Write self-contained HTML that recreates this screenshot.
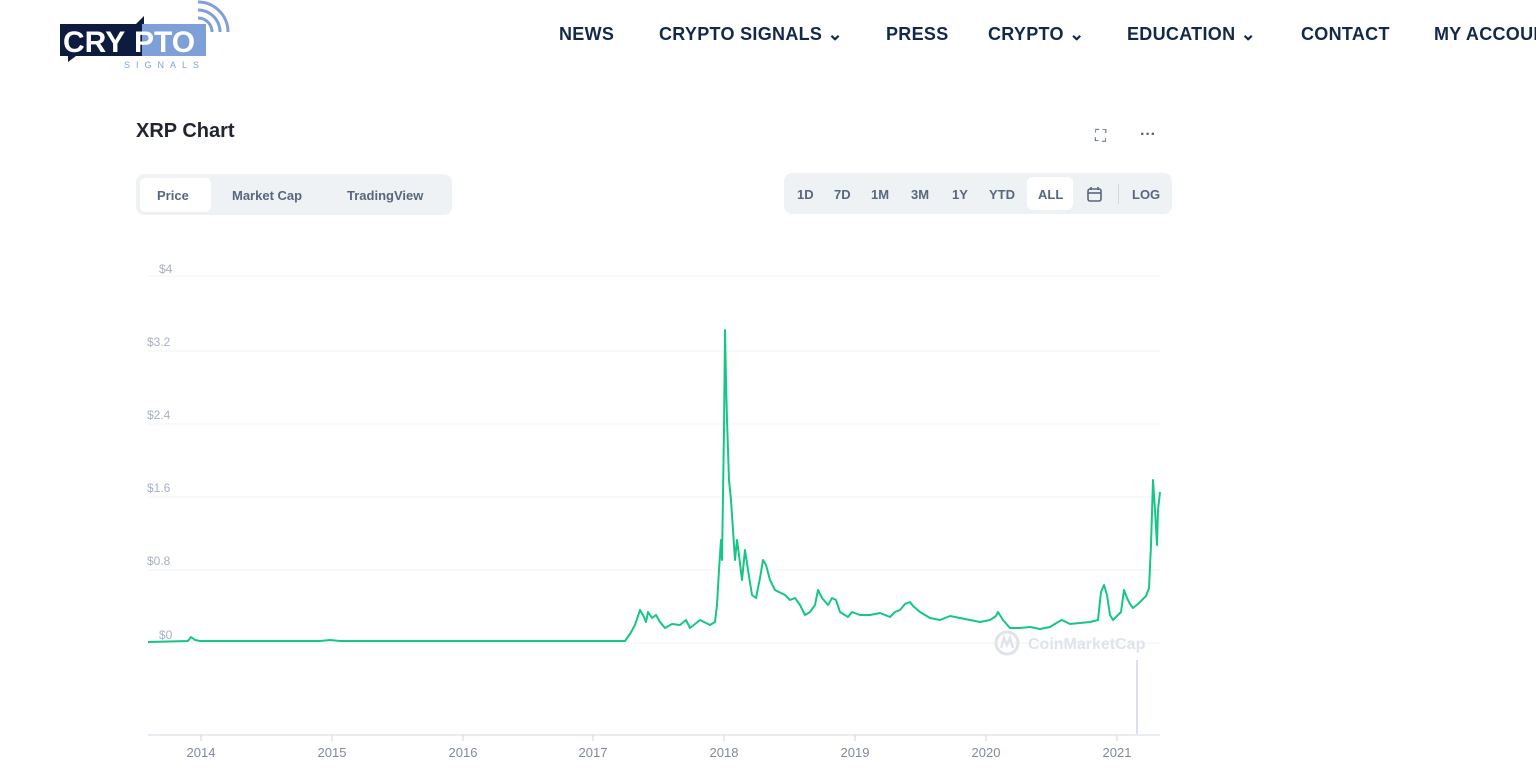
<!DOCTYPE html>
<html><head><meta charset="utf-8"><style>
body{margin:0;width:1536px;height:776px;overflow:hidden;background:#fff;font-family:"Liberation Sans",sans-serif;position:relative}
.nav{position:absolute;top:24px;font-size:18px;font-weight:bold;color:#13294b;letter-spacing:0.3px}
.abs{position:absolute}
.seg{position:absolute;background:#eff2f5;border-radius:8px}
.btn{position:absolute;font-size:13px;font-weight:bold;color:#58667e}
</style></head><body>
<svg class="abs" style="left:58px;top:0" width="175" height="72">
<path d="M2 24 H78 L86 16 L86 24 H148 V56 H18 L10 62 V56 H2 Z" fill="#0d1b3e"/>
<path d="M84 24 H148 V56 H84 Z" fill="#7f9fd8"/>
<text x="5" y="52" font-family="Liberation Sans" font-weight="bold" font-size="30" fill="#fff">CRY</text>
<text x="76" y="52" font-family="Liberation Sans" font-weight="bold" font-size="30" fill="#fff">PTO</text>
<text x="66" y="68" font-family="Liberation Sans" font-size="9" fill="#7f9fd8" letter-spacing="6">SIGNALS</text>
<path d="M140 18 A14 14 0 0 1 154 32" stroke="#7f9fd8" stroke-width="3" fill="none"/>
<path d="M140 10 A22 22 0 0 1 162 32" stroke="#7f9fd8" stroke-width="3" fill="none"/>
<path d="M140 2 A30 30 0 0 1 170 32" stroke="#7f9fd8" stroke-width="3" fill="none"/>
</svg>
<div class="nav" style="left:559px">NEWS</div>
<div class="nav" style="left:659px">CRYPTO SIGNALS ⌄</div>
<div class="nav" style="left:886px">PRESS</div>
<div class="nav" style="left:988px">CRYPTO ⌄</div>
<div class="nav" style="left:1127px">EDUCATION ⌄</div>
<div class="nav" style="left:1301px">CONTACT</div>
<div class="nav" style="left:1434px;white-space:nowrap">MY ACCOUNT</div>

<div class="abs" style="left:136px;top:120px;font-size:20px;font-weight:bold;color:#222531">XRP Chart</div>
<div class="abs" style="left:1095px;top:128px;font-size:16px;color:#58667e">⛶</div>
<div class="abs" style="left:1140px;top:126px;font-size:16px;color:#58667e;font-weight:bold">···</div>

<div class="seg" style="left:136px;top:174px;width:316px;height:41px"></div>
<div class="abs" style="left:140px;top:178px;width:71px;height:34px;background:#fff;border-radius:6px"></div>
<div class="btn" style="left:157px;top:188px">Price</div>
<div class="btn" style="left:232px;top:188px">Market Cap</div>
<div class="btn" style="left:347px;top:188px">TradingView</div>

<div class="seg" style="left:784px;top:173px;width:388px;height:41px"></div>
<div class="abs" style="left:1027px;top:177px;width:46px;height:33px;background:#fff;border-radius:6px"></div>
<div class="btn" style="left:797px;top:187px">1D</div>
<div class="btn" style="left:834px;top:187px">7D</div>
<div class="btn" style="left:871px;top:187px">1M</div>
<div class="btn" style="left:911px;top:187px">3M</div>
<div class="btn" style="left:952px;top:187px">1Y</div>
<div class="btn" style="left:989px;top:187px">YTD</div>
<div class="btn" style="left:1038px;top:187px">ALL</div>
<svg class="abs" style="left:1086px;top:185px" width="18" height="18"><rect x="2" y="4" width="13" height="12" rx="2" fill="none" stroke="#58667e" stroke-width="1.6"/><line x1="2" y1="8" x2="15" y2="8" stroke="#58667e" stroke-width="1.6"/><line x1="5" y1="2" x2="5" y2="5" stroke="#58667e" stroke-width="1.6"/><line x1="12" y1="2" x2="12" y2="5" stroke="#58667e" stroke-width="1.6"/></svg>
<div class="abs" style="left:1118px;top:184px;width:1px;height:20px;background:#cfd6e4"></div>
<div class="btn" style="left:1132px;top:187px">LOG</div>

<svg class="abs" style="left:0;top:0" width="1536" height="776">
<g stroke="#f1f3f6" stroke-width="1">
<line x1="148" y1="276" x2="1160" y2="276"/><line x1="148" y1="351" x2="1160" y2="351"/>
<line x1="148" y1="424" x2="1160" y2="424"/><line x1="148" y1="497" x2="1160" y2="497"/>
<line x1="148" y1="570" x2="1160" y2="570"/><line x1="148" y1="643" x2="1160" y2="643"/>
</g>
<g font-family="Liberation Sans" font-size="12" fill="#a6b0c3">
<text x="159" y="273">$4</text><text x="147" y="346">$3.2</text><text x="147" y="419">$2.4</text>
<text x="147" y="492">$1.6</text><text x="147" y="565">$0.8</text><text x="159" y="639">$0</text>
</g>
<text x="1028" y="649" font-family="Liberation Sans" font-size="16" font-weight="bold" fill="#dfe3ec">CoinMarketCap</text>
<circle cx="1007" cy="643" r="11" fill="none" stroke="#dfe3ec" stroke-width="3"/>
<path d="M1001 648 L1004 638 L1007 645 L1010 638 L1013 648" fill="none" stroke="#dfe3ec" stroke-width="2.5"/>
<line x1="1137" y1="660" x2="1137" y2="735" stroke="#d0d6e2" stroke-width="1.5"/>
<line x1="148" y1="735" x2="1160" y2="735" stroke="#e2e6ee" stroke-width="1.5"/>
<g stroke="#cfd6e4"><line x1="201" y1="735" x2="201" y2="741"/><line x1="332" y1="735" x2="332" y2="741"/><line x1="463" y1="735" x2="463" y2="741"/><line x1="593" y1="735" x2="593" y2="741"/><line x1="724" y1="735" x2="724" y2="741"/><line x1="855" y1="735" x2="855" y2="741"/><line x1="986" y1="735" x2="986" y2="741"/><line x1="1117" y1="735" x2="1117" y2="741"/></g>
<g font-family="Liberation Sans" font-size="13" fill="#808a9d" text-anchor="middle">
<text x="201" y="757">2014</text><text x="332" y="757">2015</text><text x="463" y="757">2016</text><text x="593" y="757">2017</text><text x="724" y="757">2018</text><text x="855" y="757">2019</text><text x="986" y="757">2020</text><text x="1117" y="757">2021</text>
</g>
<polyline fill="none" stroke="#16c784" stroke-width="2" stroke-linejoin="round" points="148,642 188,641 191,637 195,640 200,641 320,641 330,640 340,641 625,641 630,634 635,625 640,610 643,615 646,622 648,612 652,618 656,615 660,622 665,628 672,624 680,625 686,620 690,628 700,620 710,625 715,622 717,605 719,570 721,540 722,560 724,430 725,330 726,380 727,420 729,480 731,500 733,530 735,560 737,540 739,555 742,580 745,550 748,570 752,595 756,598 760,578 763,560 766,565 770,580 775,590 785,595 790,600 795,598 800,605 805,615 810,612 815,605 818,590 822,598 828,605 832,598 836,600 840,612 848,617 852,612 860,615 870,615 880,613 890,617 895,612 900,610 905,604 910,602 913,606 920,612 930,618 940,620 950,616 960,618 970,620 980,622 990,620 996,616 998,612 1003,620 1010,628 1020,628 1030,627 1040,629 1050,627 1058,622 1062,620 1070,624 1080,623 1090,622 1098,620 1101,592 1104,585 1107,595 1110,615 1113,620 1117,616 1121,612 1124,590 1127,598 1130,604 1133,608 1138,604 1142,600 1146,596 1149,588 1151,545 1153,480 1155,510 1157,545 1158,510 1160,492"/>
</svg>
</body></html>
